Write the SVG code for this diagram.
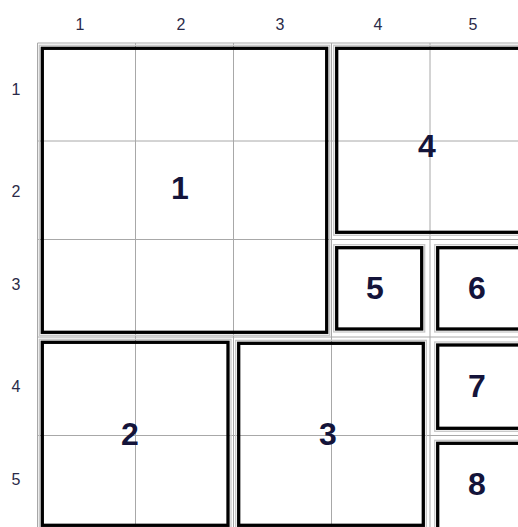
<svg xmlns="http://www.w3.org/2000/svg" width="518" height="527" viewBox="0 0 518 527">
<style>
.grid{stroke:#a8a8a8;stroke-width:1;fill:none}
.halo{fill:none;stroke:#c8c8c8;stroke-width:1.3}
.blk{fill:none;stroke:#000;stroke-width:3.3}
.hdr{font-family:"Liberation Sans",Arial,sans-serif;font-size:16px;fill:#2a2a48;text-anchor:middle}
.num{font-family:"Liberation Sans",Arial,sans-serif;font-size:32px;font-weight:bold;fill:#14143a;text-anchor:middle}
</style>
<rect width="518" height="527" fill="#fff"/>
<g id="headers">
<text class="hdr" x="80" y="30">1</text>
<text class="hdr" x="181" y="30">2</text>
<text class="hdr" x="280" y="30">3</text>
<text class="hdr" x="378" y="30">4</text>
<text class="hdr" x="473" y="30">5</text>
<text class="hdr" x="16" y="95">1</text>
<text class="hdr" x="16" y="197">2</text>
<text class="hdr" x="16" y="290">3</text>
<text class="hdr" x="16" y="392">4</text>
<text class="hdr" x="16" y="485">5</text>
</g>
<g id="grid" class="grid">
<path d="M37.5 43V527M135.5 43V527M233.5 43V527M331.5 43V527M430 43V527"/>
<path d="M37.5 43H518M37.5 141H518M37.5 239.5H518M37.5 337H518M37.5 435.5H518"/>
</g>
<g id="block1"><rect class="halo" x="39.3" y="45.3" width="290.4" height="290"/><rect class="blk" x="42.3" y="48.3" width="284.4" height="284"/><text class="num" x="180" y="199">1</text></g>
<g id="block4"><rect class="halo" x="333.7" y="45.3" width="200" height="190"/><rect class="blk" x="336.7" y="48.3" width="200" height="184"/><text class="num" x="427" y="157">4</text></g>
<g id="block5"><rect class="halo" x="333.7" y="244.7" width="91" height="87.3"/><rect class="blk" x="336.7" y="247.7" width="85" height="81.3"/><text class="num" x="375" y="299">5</text></g>
<g id="block6"><rect class="halo" x="434.7" y="244.7" width="100" height="87.3"/><rect class="blk" x="437.7" y="247.7" width="100" height="81.3"/><text class="num" x="477" y="299">6</text></g>
<g id="block2"><rect class="halo" x="39.3" y="339.3" width="191.7" height="189"/><rect class="blk" x="42.3" y="342.3" width="185.7" height="183"/><text class="num" x="130" y="445">2</text></g>
<g id="block3"><rect class="halo" x="235.7" y="340.3" width="190.6" height="188"/><rect class="blk" x="238.7" y="343.3" width="184.6" height="182"/><text class="num" x="328" y="445">3</text></g>
<g id="block7"><rect class="halo" x="434.7" y="342" width="100" height="89.3"/><rect class="blk" x="437.7" y="345" width="100" height="83.3"/><text class="num" x="477" y="397">7</text></g>
<g id="block8"><rect class="halo" x="434.7" y="440.3" width="100" height="100"/><rect class="blk" x="437.7" y="443.3" width="100" height="100"/><text class="num" x="477" y="495">8</text></g>
</svg>
